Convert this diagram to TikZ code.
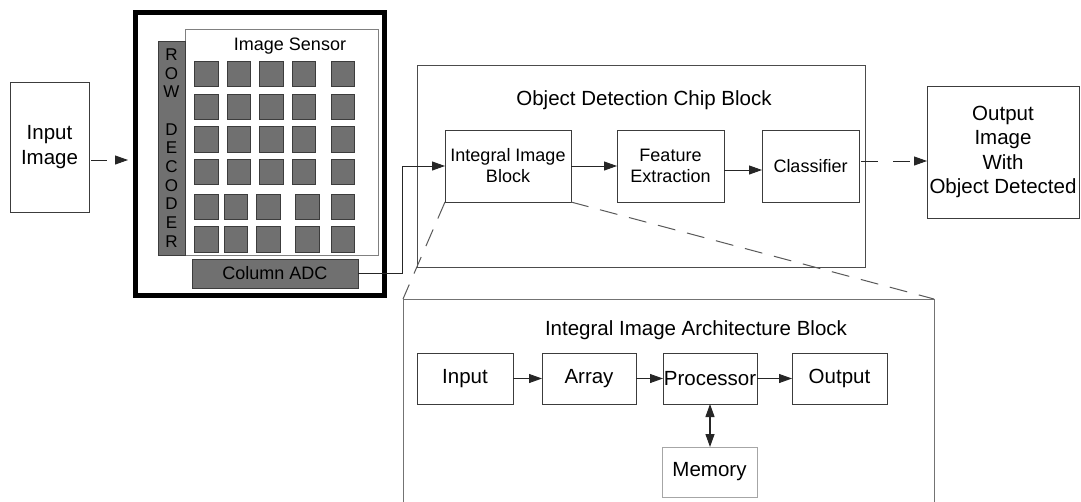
\documentclass[tikz,border=0pt]{standalone}
\usepackage{fontspec}
\setmainfont{Liberation Sans}
\usetikzlibrary{arrows.meta,calc}
\definecolor{cellgray}{RGB}{112,112,112}
\definecolor{edgedark}{RGB}{60,60,60}
\begin{document}
\begin{tikzpicture}[x=1pt,y=-1pt,
  box/.style={draw=edgedark, fill=white, line width=1pt, inner sep=0pt, outer sep=0pt, align=center},
  bigtext/.style={font=\fontsize{20.5}{24.5}\selectfont},
  smalltext/.style={font=\fontsize{18}{21}\selectfont},
  cell/.style={draw=edgedark, fill=cellgray, line width=0.9pt, inner sep=0pt, outer sep=0pt,
    minimum width=23.5pt, minimum height=25.5pt},
  grayblock/.style={draw=edgedark, fill=cellgray, line width=0.9pt, inner sep=0pt, outer sep=0pt, align=center},
  conn/.style={draw=black!85, line width=0.9pt},
  arr/.style={conn, -{Triangle[length=13pt, width=9pt]}},
  dasharr/.style={arr, dash pattern=on 17pt off 15pt},
  zoomline/.style={draw=black!65, line width=1pt, dash pattern=on 18pt off 12pt}
]
\useasboundingbox (0,0) rectangle (1081,501);
\fill[white] (0,0) rectangle (1081,501);

% input image
\node[box, bigtext, minimum width=79pt, minimum height=130pt] (inimg) at (49.5,147) {Input\\Image};

% image sensor package
\node[draw=black, line width=5pt, inner sep=0pt, outer sep=0pt,
      minimum width=248.5pt, minimum height=283.5pt] (sensorframe) at (259.75,153.75) {};
\node[box, draw=black!50, minimum width=193pt, minimum height=226pt] (sensor) at (281.5,142) {};
\node[smalltext, inner sep=0pt] (sensorlabel) at (290,46) {Image Sensor};
\node[grayblock, minimum width=27pt, minimum height=214pt,
      font=\fontsize{17}{18.7}\selectfont] (rowdec) at (171.5,148)
      {R\\O\\W\\[18.7pt]D\\E\\C\\O\\D\\E\\R};
\node[grayblock, smalltext, minimum width=166pt, minimum height=29pt] (adc) at (275,273.5) {Column ADC};

% pixel array
\foreach \y [count=\r] in {74,107,139.5,172}
  \foreach \x [count=\c] in {206.5,239,271.5,304,343}
    \node[cell] (px-\r-\c) at (\x,\y) {};
\foreach \y [count=\r from 5] in {207,239.5}
  \foreach \x [count=\c] in {206.5,236,268.5,307.5,343}
    \node[cell] (px-\r-\c) at (\x,\y) {};

% object detection chip
\node[box, draw=black!70, minimum width=448pt, minimum height=202pt] (odc) at (641,166) {};
\node[bigtext, inner sep=0pt] (odctitle) at (644,100) {Object Detection Chip Block};
\node[box, smalltext, minimum width=126pt, minimum height=72pt] (iib) at (508,166) {Integral Image\\Block};
\node[box, smalltext, minimum width=107pt, minimum height=72pt] (fex) at (670.5,166) {Feature\\Extraction};
\node[box, smalltext, minimum width=97pt, minimum height=72pt] (clf) at (810.5,166) {Classifier};

% output image
\node[box, bigtext, minimum width=152pt, minimum height=132pt] (outimg) at (1003,152)
  {Output\\Image\\With\\Object Detected};

% integral image architecture
\node[box, draw=black!55, minimum width=531pt, minimum height=231pt] (arch) at (668.5,414.5) {};
\node[bigtext, inner sep=0pt] (archtitle) at (696,330) {Integral Image Architecture Block};
\node[box, bigtext, minimum width=96pt, minimum height=51pt] (ain) at (465,378.5) {Input};
\node[box, bigtext, minimum width=94pt, minimum height=51pt] (aarr) at (589,378.5) {Array};
\node[box, bigtext, minimum width=94pt, minimum height=51pt] (aproc) at (710,378.5) {Processor};
\node[box, bigtext, minimum width=95pt, minimum height=51pt] (aout) at (839.5,378.5) {Output};
\node[box, bigtext, draw=black!35, minimum width=95pt, minimum height=50pt] (mem) at (709.5,472) {Memory};

% connectors
\draw[dasharr, dash pattern=on 16pt off 9pt, shorten <=2pt, shorten >=7.5pt]
  ([yshift=-13pt]inimg.east) -- ([yshift=-13pt]inimg.east -| sensorframe.west);
\draw[arr] (adc.east) -- ++(44,0) |- (iib.west);
\draw[arr] (iib) -- (fex);
\draw[arr] ([yshift=-4pt]fex.east) -- ([yshift=-4pt]fex.east -| clf.west);
\draw[dasharr, shorten <=2pt] ([yshift=5pt]clf.east) -- ([yshift=5pt]clf.east -| outimg.west);
\draw[zoomline] (iib.south west) -- (arch.north west);
\draw[zoomline] (iib.south east) -- (arch.north east);

\draw[arr] (ain) -- (aarr);
\draw[arr] (aarr) -- (aproc);
\draw[arr] (aproc) -- (aout);
\draw[conn, line width=1.2pt, {Triangle[length=13pt, width=9pt]}-{Triangle[length=13pt, width=9pt]}]
  (aproc.south) -- (aproc.south |- mem.north);
\end{tikzpicture}
\end{document}
